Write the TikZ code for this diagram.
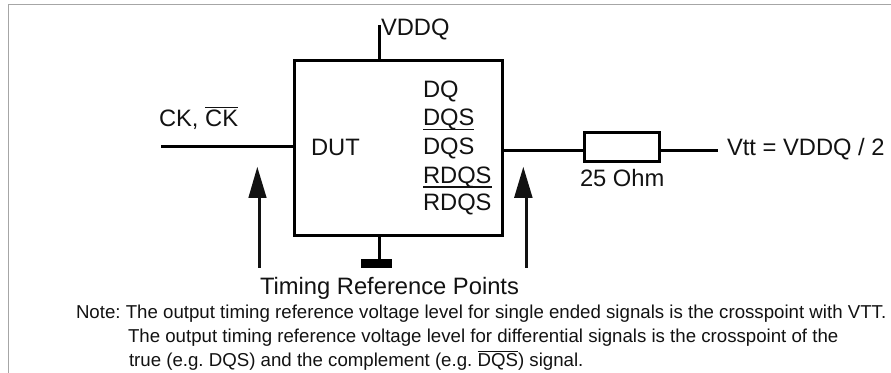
\documentclass[tikz,border=0pt]{standalone}
\usepackage{fontspec}
\setmainfont{Liberation Sans}
\frenchspacing
\newcommand{\ovl}[1]{\setbox0=\hbox{#1}\rlap{\raisebox{0.8em}{\rule{\wd0}{1.1pt}}}\box0}
\newcommand{\unl}[1]{\setbox0=\hbox{#1}\rlap{\raisebox{-0.17em}{\rule{\wd0}{1.1pt}}}\box0}
\definecolor{ink}{gray}{0.07}
\tikzset{
  x=0.75pt,y=-0.75pt,
  wire/.style={line width=2.25pt,draw=black},
  thin wire/.style={line width=1.9pt,draw=ink},
  lab/.style={anchor=base west,inner sep=0pt,outer sep=0pt,font=\fontsize{17.8pt}{17.8pt}\selectfont,text=ink},
  note/.style={anchor=base west,inner sep=0pt,outer sep=0pt,font=\fontsize{14pt}{14pt}\selectfont,text=ink},
  blockbox/.style={draw=black,line width=2.25pt,minimum width=155.5pt,minimum height=131pt,inner sep=0pt,outer sep=0pt},
  resbox/.style={draw=black,line width=2.25pt,minimum width=56.25pt,minimum height=21.5pt,inner sep=0pt,outer sep=0pt},
  gndbar/.style={fill=black,draw=none,minimum width=23.25pt,minimum height=6.4pt,inner sep=0pt,outer sep=0pt},
  pointer/.style={thin wire},
  pointerhead/.style={fill=ink,draw=none}
}
\begin{document}
\begin{tikzpicture}
\useasboundingbox (0,0) rectangle (891,373);
\draw[line width=0.75pt,draw=black!35] (8.5,373) -- (8.5,4.5) -- (891,4.5);
\node[blockbox] (dut) at (398.5,147.8) {};
\node[resbox] (res) at (622,147.3) {};
\node[gndbar] (gnd) at (376.5,263.5) {};
\coordinate (vddtop) at (379,25);
\coordinate (gndbot) at (379,260);
\coordinate (ckin) at (161,146.3);
\coordinate (vttend) at (718,151);
\coordinate (lpb) at (259.3,268);
\coordinate (lpt) at (259.3,192);
\coordinate (rpb) at (526.3,268);
\coordinate (rpt) at (526.3,192);
\draw[wire] (vddtop) -- (vddtop |- dut.north);
\draw[wire] (gndbot |- dut.south) -- (gndbot);
\draw[wire] (ckin) -- (ckin -| dut.west);
\draw[wire] (vttend -| dut.east) -- (vttend -| res.west);
\draw[wire] (vttend -| res.east) -- (vttend);
\draw[pointer] (lpb) -- (lpt);
\draw[pointer] (rpb) -- (rpt);
\fill[pointerhead] (257.3,167) -- (248.3,198) -- (266.7,198) -- cycle;
\fill[pointerhead] (523.3,167) -- (514,198) -- (532.7,198) -- cycle;
\node[lab] (vddq) at (381,36) {VDDQ};
\node[lab] (ck) at (159,127) {CK, \ovl{CK}};
\node[lab] (dutl) at (311,156) {DUT};
\node[lab] (dq1) at (423,98) {DQ};
\node[lab] (dq2) at (423,126) {\unl{DQS}};
\node[lab] (dq3) at (423,155) {DQS};
\node[lab] (dq4) at (423,183.5) {\unl{RDQS}};
\node[lab] (dq5) at (423,211) {RDQS};
\node[lab] (vtt) at (727,156) {Vtt = VDDQ / 2};
\node[lab] (ohm) at (580,187) {25 Ohm};
\node[lab] (trp) at (260,295) {Timing Reference Points};
\node[note] (n1) at (76,319) {Note: The output timing reference voltage level for single ended signals is the crosspoint with VTT.};
\node[note] (n2) at (128,343) {The output timing reference voltage level for differential signals is the crosspoint of the};
\node[note] (n3) at (129,367) {true (e.g. DQS) and the complement (e.g. \ovl{DQS}) signal.};
\end{tikzpicture}
\end{document}
